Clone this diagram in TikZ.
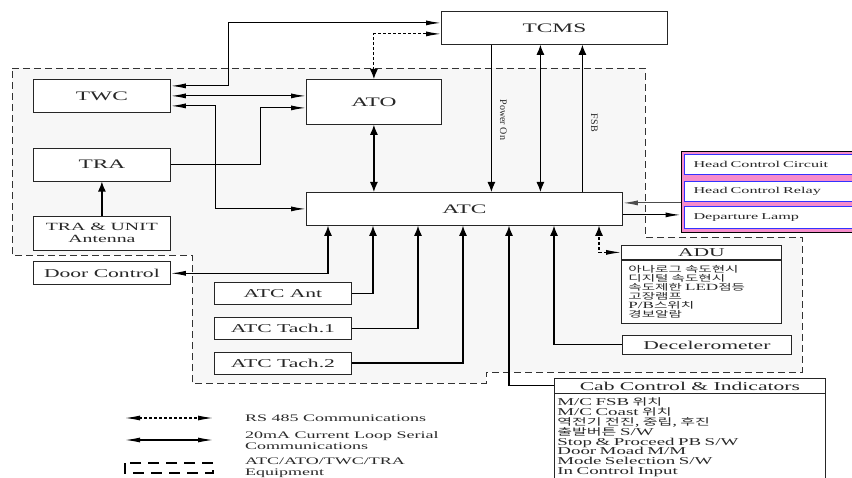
\documentclass[tikz,border=0pt]{standalone}
\usepackage{fontspec}
\setmainfont[FakeStretch=1.8]{Liberation Serif}
\newfontfamily\krfont[FakeStretch=1.7,Scale=0.9]{Noto Sans CJK KR}
\newfontfamily\plainfont{Liberation Serif}
\newcommand{\kr}[1]{{\krfont #1}}
\newcommand{\bigfont}{\fontsize{13}{15}\selectfont}
\newcommand{\midfont}{\fontsize{12}{14}\selectfont}
\newcommand{\listfont}{\fontsize{10.5}{9.6}\selectfont}
\usepackage{tikz}
\usetikzlibrary{positioning, arrows.meta, fit, backgrounds}
\definecolor{equipfill}{RGB}{247,247,247}
\definecolor{textgray}{RGB}{40,40,40}

\begin{document}
\begin{tikzpicture}[
    x=1pt, y=-1pt,
    every node/.style={text=textgray},
    hT/.tip={Latex[length=15pt,width=5pt]},
    vT/.tip={Latex[length=10pt,width=8pt]},
    block/.style={rectangle, draw=black!85, line width=0.8pt, fill=white, anchor=north west, inner sep=0pt, minimum width=137pt, minimum height=33pt, align=center, font=\bigfont},
    smallblock/.style={block, minimum height=22pt, font=\midfont},
    rowbox/.style={rectangle, draw=blue!80, line width=1pt, fill=white, anchor=north west, text width=160pt, inner xsep=9pt, inner ysep=0pt, minimum height=20pt, align=left, font=\fontsize{9}{10}\selectfont},
    listbox/.style={rectangle, anchor=north west, inner xsep=3pt, inner ysep=4pt, align=left, font=\listfont},
    loop/.style={line width=1.2pt},
    rs/.style={line width=1.1pt, dash pattern=on 3pt off 2pt},
    equip/.style={draw=black!80, line width=0.9pt, dash pattern=on 7pt off 4pt, fill=equipfill},
    lbl/.style={rotate=-90, anchor=south, inner sep=8pt, font=\plainfont\fontsize{10}{12}\selectfont},
    legend/.style={anchor=west, align=left, inner sep=3pt, font=\fontsize{10}{11}\selectfont},
]
\useasboundingbox (0,0) rectangle (852,478);

% --- ATC/ATO/TWC/TRA equipment ---
\node[block] (twc) at (33,79) {TWC};
\node[block, below=35pt of twc] (tra) {TRA};
\node[block, minimum height=34pt, below=34pt of tra, font=\fontsize{11}{12}\selectfont] (trant) {TRA \& UNIT\\Antenna};
\node[block, minimum width=135pt, minimum height=45pt] (ato) at (306,79) {ATO};
\node[block, minimum width=316pt] (atc) at (306,192) {ATC};
\node[smallblock] (atcant) at (214,282) {ATC Ant};
\node[smallblock, below=12pt of atcant] (tach1) {ATC Tach.1};
\node[smallblock, below=12pt of tach1] (tach2) {ATC Tach.2};

% --- Train side ---
\node[block, minimum width=226pt] (tcms) at (441,11) {TCMS};
\node[smallblock, minimum height=23pt, below=11pt of trant] (door) {Door Control};
\node[smallblock, minimum width=169pt, minimum height=19pt] (decel) at (622,335) {Decelerometer};

\node[smallblock, minimum width=160pt, minimum height=14pt] (adu) at (621,245) {ADU};
\node[listbox, draw=black!85, line width=0.8pt, fill=white, text width=146pt, inner xsep=7pt, minimum height=63pt, below=0pt of adu, font=\fontsize{9.5}{9}\selectfont] (adulist)
  {\kr{아나로그 속도현시}\\\kr{디지털 속도현시}\\\kr{속도제한} LED\kr{점등}\\\kr{고장램프}\\P/B\kr{스위치}\\\kr{경보알람}};

\node[smallblock, minimum width=271pt, minimum height=15pt] (cab) at (554,378) {Cab Control \& Indicators};
\node[listbox, text width=265pt, below=0pt of cab] (cablist)
  {M/C FSB \kr{위치}\\M/C Coast \kr{위치}\\\kr{역전기 전진, 중립, 후진}\\\kr{출발버튼} S/W\\Stop \& Proceed PB S/W\\Door Moad M/M\\Mode Selection S/W\\In Control Input};
\draw[line width=0.8pt, draw=black!85] (cab.south west) -- ++(0,110) (cab.south east) -- ++(0,110);

\node[rowbox] (hcc) at (684,154) {Head Control Circuit};
\node[rowbox] (hcr) at (684,181) {Head Control Relay};
\node[rowbox, minimum height=22pt] (dep) at (684,206) {Departure Lamp};

% --- Grouping ---
\begin{scope}[on background layer]
  \draw[equip] (12,68) -- (645,68) -- (645,237) -- (802,237) -- (802,372) -- (486,372) -- (486,383) -- (192,383) -- (192,255) -- (12,255) -- cycle;
  \node[fit=(hcc)(dep), inner sep=3pt, draw, line width=0.9pt, fill=magenta!45] (grp) {};
\end{scope}

% --- TCMS links ---
\draw[loop, {hT}-{hT}] ([yshift=10pt]twc.east) -- ++(58,0) |- ([yshift=5pt]tcms.west);
\draw[rs, {vT}-{hT}] (ato.north) |- ([yshift=-6pt]tcms.west);
\draw[loop, -{vT}] ([xshift=-63pt]tcms.south) -- node[lbl, pos=0.51]{Power On} ([xshift=-63pt]tcms.south |- atc.north);
\draw[loop, {vT}-{vT}] ([xshift=-14pt]tcms.south) -- ([xshift=-14pt]tcms.south |- atc.north);
\draw[loop, -{vT}] ([xshift=28pt]tcms.south |- atc.north) -- node[lbl, pos=0.47]{FSB} ([xshift=28pt]tcms.south);

% --- TWC / TRA / ATO ---
\draw[loop, {hT}-{hT}] (twc.east) -- (twc.east -| ato.west);
\draw[loop, {hT}-{hT}] ([yshift=-10pt]twc.east) -- ++(45,0) |- (atc.west);
\draw[loop, -{hT}] (tra.east) -- ++(90,0) |- ([yshift=-6pt]ato.west);
\draw[loop, -{vT}] (trant) -- (tra);
\draw[loop, {vT}-{vT}] (ato.south) -- (ato.south |- atc.north);

% --- Head control ---
\draw[loop, draw=black!70, -{hT}] ([yshift=6pt]atc.east -| grp.west) -- ([yshift=6pt]atc.east);
\draw[loop, -{hT}] ([yshift=-6pt]atc.east) -- ([yshift=-6pt]atc.east -| grp.west);

% --- ATC inputs ---
\draw[loop, {hT}-{vT}] (door.east) -| ([xshift=22pt]atc.south west);
\draw[loop, -{vT}] (atcant.east) -| ([xshift=67pt]atc.south west);
\draw[loop, -{vT}] (tach1.east) -| ([xshift=112pt]atc.south west);
\draw[loop, -{vT}] (tach2.east) -| ([xshift=157pt]atc.south west);
\draw[loop, -{vT}] (cab.west) -| ([xshift=203pt]atc.south west);
\draw[loop, -{vT}] (decel.west) -| ([xshift=248pt]atc.south west);
\draw[rs, {hT}-{vT}] (adu.west) -| ([xshift=293pt]atc.south west);

% --- Legend ---
\coordinate (rsA) at (125,418);
\coordinate (rsB) at (213,418);
\coordinate (lpA) at (125,440);
\coordinate (lpB) at (213,440);
\coordinate (eqA) at (125,463);
\coordinate (eqB) at (213,473);
\draw[rs, {hT}-{hT}] (rsA) -- (rsB);
\draw[loop, {hT}-{hT}] (lpA) -- (lpB);
\draw[line width=1.5pt, dash pattern=on 11pt off 7pt] (eqA) rectangle (eqB);
\node[legend] (rstxt) at (242,418) {RS 485 Communications};
\node[legend] (lptxt) at (242,441) {20mA Current Loop Serial\\Communications};
\node[legend] (eqtxt) at (242,468) {ATC/ATO/TWC/TRA\\Equipment};
\end{tikzpicture}
\end{document}
